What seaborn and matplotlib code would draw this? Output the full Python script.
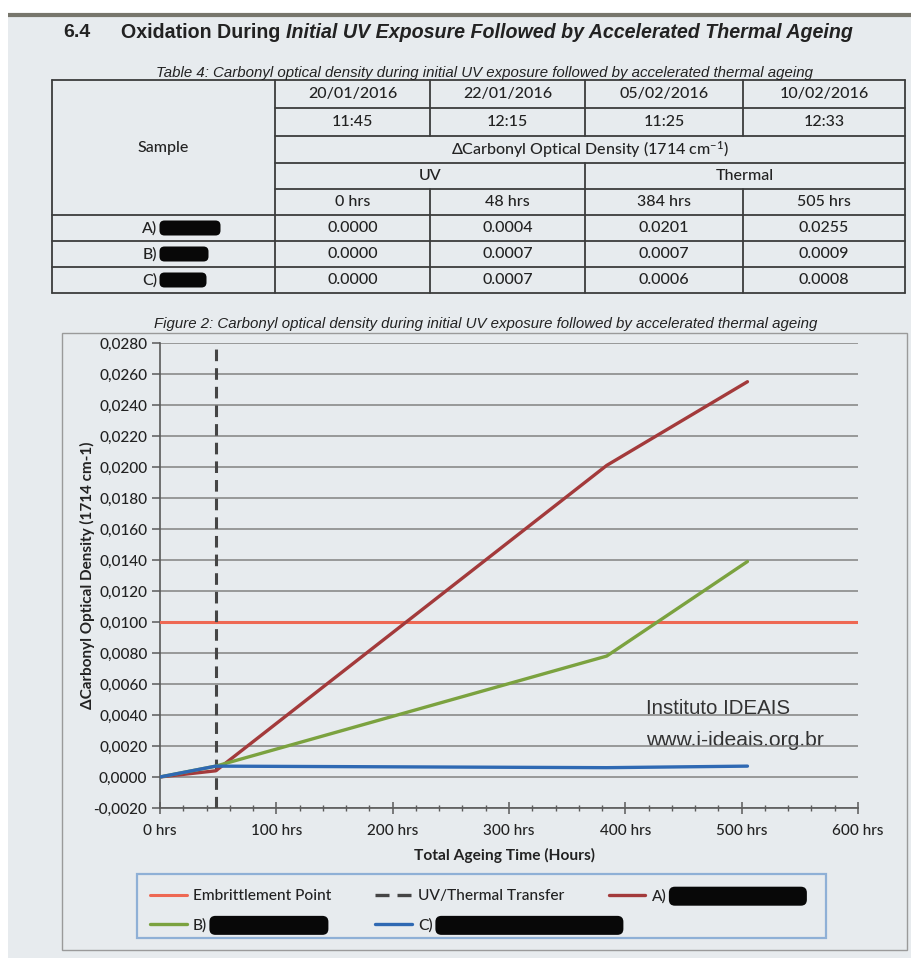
import matplotlib
matplotlib.use("Agg")
import pandas as pd
import matplotlib.pyplot as plt
import matplotlib.ticker as mticker
from matplotlib.patches import Rectangle, FancyBboxPatch
from matplotlib.lines import Line2D
import seaborn as sns

# ─── Data ───────────────────────────────────────────────────────
hours = [0, 48, 384, 505]
sample_a = [0.0000, 0.0004, 0.0201, 0.0255]
sample_b = [0.0000, 0.0007, 0.0078, 0.0139]
sample_c = [0.0000, 0.0007, 0.0006, 0.0007]
embrittlement = 0.0100
transfer_hours = 48

table_dates = ["20/01/2016", "22/01/2016", "05/02/2016", "10/02/2016"]
table_times = ["11:45", "12:15", "11:25", "12:33"]
table_hours = ["0 hrs", "48 hrs", "384 hrs", "505 hrs"]
table_rows = {
    "A)": ["0.0000", "0.0004", "0.0201", "0.0255"],
    "B)": ["0.0000", "0.0007", "0.0007", "0.0009"],
    "C)": ["0.0000", "0.0007", "0.0006", "0.0008"],
}

# ─── Style ──────────────────────────────────────────────────────
sns.set_theme(style="white")
PAGE = "#E7EBEE"
INK = "#222222"
plt.rcParams.update({
    "font.family": ["Lato", "DejaVu Sans"],
    "mathtext.default": "regular",
    "axes.facecolor": "none",
    "figure.facecolor": "white",
})
COLORS = {"A)": "#A33A3B", "B)": "#7BA23F", "C)": "#2F69B3"}
EMB_COLOR = "#EE6853"
DASH_COLOR = "#454545"
ARIAL = ["Liberation Sans", "DejaVu Sans"]
W = "medium"

fig = plt.figure(figsize=(9.11, 9.58), dpi=100)

# background / page axes in pixel coordinates
bg = fig.add_axes([0, 0, 1, 1], zorder=0)
bg.set_xlim(0, 911)
bg.set_ylim(958, 0)
bg.axis("off")
bg.add_patch(Rectangle((8, 15), 903, 943, facecolor=PAGE, edgecolor="none"))
bg.plot([8, 911], [15, 15], color="#77766c", lw=3, solid_capstyle="butt")

# ─── Title ──────────────────────────────────────────────────────
bg.text(63, 32, "6.4", fontsize=14, fontweight="bold", family=ARIAL,
        color=INK, va="center")
t1 = bg.text(121, 32, "Oxidation During ", fontsize=14.1, fontweight="bold",
             family=ARIAL, color=INK, va="center")
bg.annotate("Initial UV Exposure Followed by Accelerated Thermal Ageing",
            xy=(1, 0), xycoords=t1, va="bottom", fontsize=14.1,
            fontweight="bold", fontstyle="italic", family=ARIAL, color=INK)

# ─── Table ──────────────────────────────────────────────────────
bg.text(485, 73, "Table 4: Carbonyl optical density during initial UV exposure "
        "followed by accelerated thermal ageing", fontsize=10.8,
        fontstyle="italic", family=ARIAL, color=INK, ha="center", va="center")

LW, LC = 1.3, "#3c3c3c"
cols = [52, 275, 430, 585, 743, 905]
rows = [80, 108, 136, 163, 189, 215, 241, 267, 293]


def hline(y, x0, x1):
    bg.plot([x0, x1], [y, y], color=LC, lw=LW)


def vline(x, y0, y1):
    bg.plot([x, x], [y0, y1], color=LC, lw=LW)


hline(rows[0], cols[0], cols[-1])
for y in rows[1:5]:
    hline(y, cols[1], cols[-1])
for y in rows[5:]:
    hline(y, cols[0], cols[-1])
vline(cols[0], rows[0], rows[-1])
vline(cols[1], rows[0], rows[-1])
vline(cols[-1], rows[0], rows[-1])
vline(cols[2], rows[0], rows[2])
vline(cols[2], rows[4], rows[-1])
vline(cols[3], rows[0], rows[2])
vline(cols[3], rows[3], rows[-1])
vline(cols[4], rows[0], rows[2])
vline(cols[4], rows[4], rows[-1])

TFS = 11.5
centers = [(cols[i] + cols[i + 1]) / 2 for i in range(1, 5)]


def cell(x, y, s, **kw):
    bg.text(x, y, s, fontsize=TFS, color=INK, fontweight=W, ha="center",
            va="center", **kw)


for i, cx in enumerate(centers):
    cell(cx, (rows[0] + rows[1]) / 2, table_dates[i])
    cell(cx, (rows[1] + rows[2]) / 2, table_times[i])
    cell(cx, (rows[4] + rows[5]) / 2, table_hours[i])
cell((cols[0] + cols[1]) / 2, (rows[0] + rows[5]) / 2, "Sample")
cell((cols[1] + cols[-1]) / 2, (rows[2] + rows[3]) / 2,
     "ΔCarbonyl Optical Density (1714 cm$^{-1}$)")
cell((cols[1] + cols[3]) / 2, (rows[3] + rows[4]) / 2, "UV")
cell((cols[3] + cols[-1]) / 2, (rows[3] + rows[4]) / 2, "Thermal")

blob_w = {"A)": 58, "B)": 46, "C)": 44}
for r, (name, vals) in enumerate(table_rows.items()):
    yc = (rows[5 + r] + rows[6 + r]) / 2
    bg.text(157, yc, name, fontsize=TFS, color=INK, fontweight=W,
            ha="right", va="center")
    bg.add_patch(FancyBboxPatch((161, yc - 6), blob_w[name], 12,
                                boxstyle="round,pad=1.5,rounding_size=5",
                                facecolor="#080808", edgecolor="none"))
    for i, cx in enumerate(centers):
        cell(cx, yc, vals[i])

# ─── Figure box and caption ─────────────────────────────────────
bg.text(486, 324, "Figure 2: Carbonyl optical density during initial UV exposure "
        "followed by accelerated thermal ageing", fontsize=10.8,
        fontstyle="italic", family=ARIAL, color=INK, ha="center", va="center")
bg.add_patch(Rectangle((62, 333), 845, 617, facecolor="none",
                       edgecolor="#9a9a9a", lw=1.0))
bg.add_patch(Rectangle((137, 874), 689, 64, facecolor="none",
                       edgecolor="#8fb0d6", lw=1.6))

# ─── Chart ──────────────────────────────────────────────────────
df = pd.DataFrame({
    "hours": hours * 3,
    "density": sample_a + sample_b + sample_c,
    "sample": ["A)"] * 4 + ["B)"] * 4 + ["C)"] * 4,
})

ax = fig.add_axes([0.1756, 0.1566, 0.7662, 0.4854], zorder=2)
ax.set_facecolor("none")
ax.set_xlim(0, 600)
ax.set_ylim(-0.002, 0.028)
ax.set_yticks([v / 10000 for v in range(-20, 281, 20)])
ax.yaxis.grid(True, color="#8a8a8a", lw=1.2)
ax.xaxis.grid(False)

ax.axhline(embrittlement, color=EMB_COLOR, lw=2.2, zorder=3)
ax.axvline(transfer_hours, color=DASH_COLOR, lw=2.2, ls=(0, (3.8, 2.3)),
           zorder=4)
sns.lineplot(data=df, x="hours", y="density", hue="sample", palette=COLORS,
             lw=2.4, ax=ax, legend=False, zorder=5)

ax.set_xticks(range(0, 601, 100))
ax.set_xticklabels([f"{h} hrs" for h in range(0, 601, 100)])
ax.xaxis.set_minor_locator(mticker.MultipleLocator(20))
ax.yaxis.set_major_formatter(mticker.FuncFormatter(
    lambda v, _: ("0,0000" if abs(v) < 1e-9 else f"{v:.4f}".replace(".", ","))))
for s in ["top", "right"]:
    ax.spines[s].set_visible(False)
for s in ["left", "bottom"]:
    ax.spines[s].set_color("#5a5a5a")
    ax.spines[s].set_linewidth(1.2)
ax.tick_params(axis="y", which="major", direction="out", length=6, width=1.1,
               color="#5a5a5a", pad=3, labelsize=11, labelcolor=INK, left=True)
ax.tick_params(axis="x", which="major", direction="inout", length=9, width=1.1,
               color="#5a5a5a", pad=7, labelsize=11, labelcolor=INK, bottom=True)
ax.tick_params(axis="x", which="minor", direction="inout", length=5, width=1.0,
               color="#5a5a5a", bottom=True)
for lab in ax.get_xticklabels() + ax.get_yticklabels():
    lab.set_fontweight(W)

ax.set_ylabel("ΔCarbonyl Optical Density (1714 cm-1)", fontsize=11,
              fontweight="bold", color=INK)
ax.yaxis.set_label_coords(-0.093, 0.5)
ax.set_xlabel("Total Ageing Time (Hours)", fontsize=11.2, fontweight="bold",
              color=INK)
ax.xaxis.set_label_coords(0.494, -0.085)

bg.text(646, 708, "Instituto IDEAIS", fontsize=14.8, family=ARIAL,
        color="#333333", ha="left", va="center", zorder=10)
bg.text(646, 740, "www.i-ideais.org.br", fontsize=15.2, family=ARIAL,
        color="#333333", ha="left", va="center", zorder=10)

# ─── Legend ─────────────────────────────────────────────────────
h_emb = Line2D([], [], color=EMB_COLOR, lw=2.2)
h_dash = Line2D([], [], color=DASH_COLOR, lw=2.4, ls=(0, (4.2, 2.4)))
h_a = Line2D([], [], color=COLORS["A)"], lw=2.4)
h_b = Line2D([], [], color=COLORS["B)"], lw=2.4)
h_c = Line2D([], [], color=COLORS["C)"], lw=2.4)
leg = ax.legend([h_emb, h_b, h_dash, h_c, h_a],
                ["Embrittlement Point", "B)", "UV/Thermal Transfer", "C)", "A)"],
                ncol=3, frameon=False, fontsize=11.2, loc="upper left",
                bbox_to_anchor=(136 / 911, 1 - 875 / 958),
                bbox_transform=fig.transFigure, handlelength=2.35,
                handletextpad=0.4, columnspacing=2.85, labelspacing=0.95)
for t in leg.get_texts():
    t.set_color(INK)
    t.set_fontweight(W)

fig.canvas.draw()
legend_blob = {"A)": 135, "B)": 116, "C)": 185}
inv = bg.transData.inverted()
for t in leg.get_texts():
    name = t.get_text()
    if name in legend_blob:
        bb = t.get_window_extent()
        (x0, y0), (x1, y1) = inv.transform([(bb.x0, bb.y0), (bb.x1, bb.y1)])
        yc = (y0 + y1) / 2
        bg.add_patch(FancyBboxPatch((x1 + 4, yc - 8), legend_blob[name], 16,
                                    boxstyle="round,pad=1.5,rounding_size=6",
                                    facecolor="#080808", edgecolor="none",
                                    zorder=10))

fig.savefig("out.png", dpi=100)
